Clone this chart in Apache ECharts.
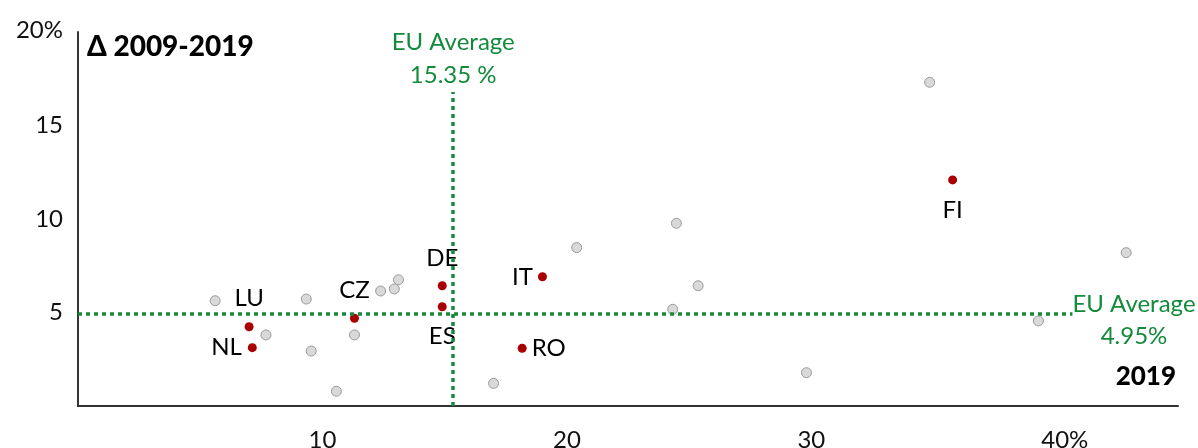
<!DOCTYPE html>
<html>
<head>
<meta charset="utf-8">
<script src="https://cdn.jsdelivr.net/npm/echarts@6/dist/echarts.min.js"></script>
<style>html,body{margin:0;padding:0;background:#fff}#c{width:1198px;height:448px}</style>
</head>
<body>
<div id="c"></div>
<script>
// Highlighted countries (x: 2019 share %, y: change 2009-2019 in pp)
var redNames = ['LU', 'NL', 'CZ', 'DE', 'ES', 'IT', 'RO', 'FI'];
var redX = [7.0, 7.13, 11.31, 14.9, 14.9, 19.0, 18.17, 35.78];
var redY = [4.24, 3.12, 4.69, 6.43, 5.31, 6.91, 3.09, 12.09];
// Other EU countries
var greyX = [5.61, 7.69, 9.34, 9.54, 10.57, 11.31, 12.38, 12.94, 13.11, 17.0, 20.4, 24.33, 24.48, 25.37, 29.8, 34.84, 39.29, 42.88];
var greyY = [5.63, 3.80, 5.72, 2.94, 0.79, 3.80, 6.15, 6.26, 6.75, 1.21, 8.47, 5.17, 9.77, 6.43, 1.78, 17.31, 4.55, 8.20];
// EU averages
var euAvgX = 15.35;
var euAvgY = 4.95;
var xTicks = [10, 20, 30, 40];
var yTicks = [5, 10, 15, 20];

var GREEN = '#148a3c';
var FONT = 'Lato, "Open Sans", sans-serif';

var labelPlacement = {
  LU: {position: 'top', distance: 12},
  NL: {position: 'left', distance: 6},
  CZ: {position: 'top', distance: 12},
  DE: {position: 'top', distance: 11},
  ES: {position: 'bottom', distance: 13},
  IT: {position: 'left', distance: 5},
  RO: {position: 'right', distance: 5},
  FI: {position: 'bottom', distance: 14}
};

var redData = redNames.map(function (n, i) {
  return {name: n, value: [redX[i], redY[i]], label: labelPlacement[n]};
});
var greyData = greyX.map(function (x, i) { return [x, greyY[i]]; });

var chart = echarts.init(document.getElementById('c'));
chart.setOption({
  animation: false,
  grid: {left: 78, right: 20, top: 32, bottom: 42, outerBoundsMode: 'none', containLabel: false},
  title: [
    {text: 'Δ 2009-2019', left: 87, top: 33, padding: 0,
     textStyle: {fontFamily: FONT, fontWeight: 900, fontSize: 28, color: '#000'}},
    {text: '2019', right: 22, top: 364, padding: 0,
     textStyle: {fontFamily: FONT, fontWeight: 900, fontSize: 26, color: '#000'}}
  ],
  xAxis: {
    type: 'value', min: 0, max: 45, interval: 10,
    axisLine: {show: true, onZero: false, lineStyle: {color: '#333', width: 2}},
    axisTick: {show: false},
    splitLine: {show: false},
    axisLabel: {
      margin: 22, fontFamily: FONT, fontSize: 24, color: '#111',
      formatter: function (v) {
        if (xTicks.indexOf(v) < 0) return '';
        return v === 40 ? '{p|40%}' : String(v);
      },
      rich: {p: {fontFamily: FONT, fontSize: 24, color: '#111', padding: [0, 0, 0, 18]}}
    }
  },
  yAxis: {
    type: 'value', min: 0, max: 20, interval: 5,
    axisLine: {show: true, onZero: false, lineStyle: {color: '#333', width: 2}},
    axisTick: {show: false},
    splitLine: {show: false},
    axisLabel: {
      margin: 15, fontFamily: FONT, fontSize: 24, color: '#111',
      formatter: function (v) {
        if (yTicks.indexOf(v) < 0) return '';
        return v === 20 ? '{t|20%}' : String(v);
      },
      rich: {t: {fontFamily: FONT, fontSize: 24, color: '#111', padding: [0, 0, 4, 0]}}
    }
  },
  series: [
    {
      type: 'scatter', z: 2, data: [], symbolSize: 0,
      markLine: {
        silent: true, symbol: ['none', 'none'],
        lineStyle: {color: GREEN, width: 3.5, type: [4, 4], opacity: 1},
        label: {show: false},
        data: [
          {xAxis: euAvgX},
          {yAxis: euAvgY}
        ]
      }
    },
    {
      type: 'scatter', z: 3, data: greyData, symbolSize: 10,
      itemStyle: {color: '#d9d9d9', borderColor: '#9a9a9a', borderWidth: 1, opacity: 1}
    },
    {
      type: 'scatter', z: 4, data: redData, symbolSize: 9,
      itemStyle: {color: '#a80000', opacity: 1},
      label: {show: true, formatter: '{b}', fontFamily: FONT, fontSize: 24, color: '#000'}
    },
    {
      type: 'scatter', z: 5, symbolSize: 1,
      itemStyle: {opacity: 1, color: 'rgba(0,0,0,0)'},
      data: [
        {value: [euAvgX, 18.55], label: {formatter: 'EU Average\n' + euAvgX.toFixed(2) + ' %', lineHeight: 33}},
        {value: [43.2, 4.6], label: {formatter: 'EU Average\n' + euAvgY.toFixed(2) + '%', lineHeight: 32}}
      ],
      label: {
        show: true, position: 'inside', fontFamily: FONT, fontSize: 24, color: GREEN,
        backgroundColor: '#fff', padding: [0, 0, 0, 0], align: 'center'
      }
    }
  ]
});
</script>
</body>
</html>
